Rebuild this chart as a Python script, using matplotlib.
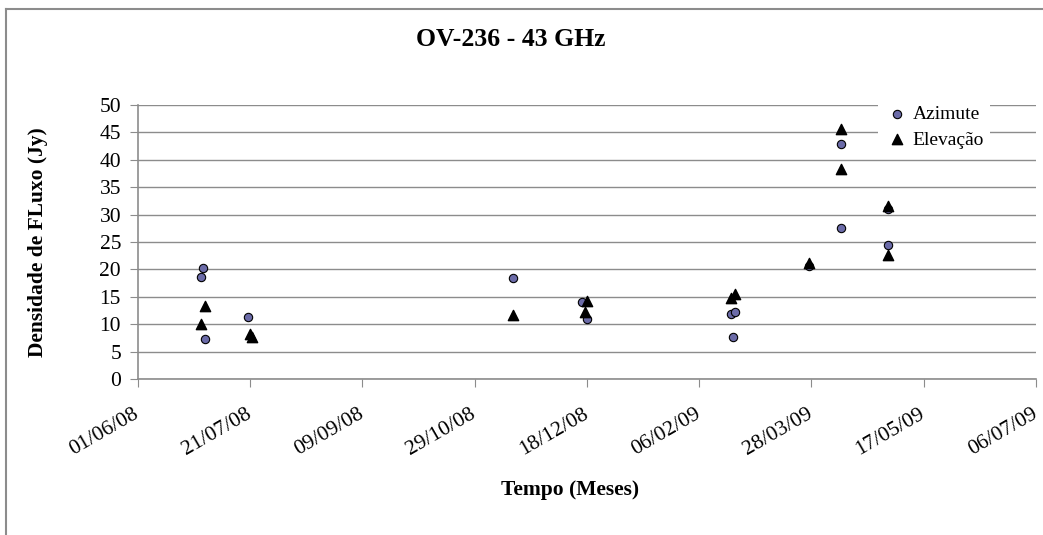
import pandas as pd
import matplotlib.pyplot as plt
import matplotlib.dates as mdates
from matplotlib.lines import Line2D

plt.rcParams['font.family'] = ['Liberation Serif', 'DejaVu Serif']

# Azimute scans
az_dates = ['2008-06-29', '2008-06-30', '2008-07-01', '2008-07-20',
            '2008-11-15', '2008-12-16', '2008-12-18',
            '2009-02-20', '2009-02-22', '2009-02-21',
            '2009-03-27', '2009-04-10', '2009-04-10', '2009-05-01', '2009-05-01']
az_vals = [18.7, 20.2, 7.3, 11.3,
           18.4, 14.0, 11.0,
           11.9, 12.2, 7.7,
           20.6, 42.9, 27.6, 31.0, 24.5]

# Elevacao scans
el_dates = ['2008-06-29', '2008-07-01', '2008-07-21', '2008-07-22',
            '2008-11-15', '2008-12-17', '2008-12-18',
            '2009-02-20', '2009-02-22',
            '2009-03-27', '2009-04-10', '2009-04-10', '2009-05-01', '2009-05-01']
el_vals = [10.0, 13.3, 8.3, 7.7,
           11.6, 12.3, 14.3,
           14.7, 15.5,
           21.1, 45.7, 38.3, 31.5, 22.6]

tick_dates = pd.date_range('2008-06-01', periods=9, freq='50D')

fig = plt.figure(figsize=(10.43, 5.35), dpi=100)
ax = fig.add_axes([0.132, 0.2916, 0.8613, 0.5121])

ax.scatter(pd.to_datetime(az_dates), az_vals, marker='o', s=36,
           facecolor='#6b6ba8', edgecolor='black', linewidth=0.8,
           label='Azimute', zorder=3)
ax.scatter(pd.to_datetime(el_dates), el_vals, marker='^', s=55,
           color='black', label='Elevação', zorder=3)

ax.set_xlim(tick_dates[0], tick_dates[-1])
ax.set_ylim(0, 50)
ax.set_yticks(range(0, 51, 5))
ax.set_xticks(tick_dates)
ax.xaxis.set_major_formatter(mdates.DateFormatter('%d/%m/%y'))

ax.grid(axis='y', color='#8c8c8c', linewidth=1)
ax.set_axisbelow(True)
for s in ['top', 'right']:
    ax.spines[s].set_visible(False)
for s in ['left', 'bottom']:
    ax.spines[s].set_color('#8c8c8c')
    ax.spines[s].set_linewidth(1.2)
ax.tick_params(colors='#8c8c8c', labelcolor='black', labelsize=15.5, length=6)
ax.tick_params(axis='y', pad=6)
ax.tick_params(axis='x', pad=18)
plt.setp(ax.get_xticklabels(), rotation=30, ha='right', va='center',
         rotation_mode='anchor')

fig.text(0.49, 1 - 40 / 535, 'OV-236 - 43 GHz', fontsize=18.5, fontweight='bold',
         ha='center', va='center')
ax.set_xlabel('Tempo (Meses)', fontsize=15.5, fontweight='bold')
ax.xaxis.set_label_coords(0.481, -0.37)
ax.set_ylabel('Densidade de FLuxo (Jy)', fontsize=15.5, fontweight='bold')
ax.yaxis.set_label_coords(-0.1, 0.5)

leg = ax.legend(loc='upper left', bbox_to_anchor=(868 / 1043, 1 - 90 / 535),
                bbox_transform=fig.transFigure, frameon=True,
                fontsize=14, handletextpad=0.1, borderpad=0.3,
                labelspacing=0.4, handlelength=1.4)
leg.get_frame().set_edgecolor('none')
leg.get_frame().set_facecolor('white')
leg.get_frame().set_alpha(1)
leg.get_frame().set_boxstyle('square', pad=0)

# outer chart frame (cropped on the right and bottom)
fig.add_artist(Line2D([0.006, 0.006], [0.0, 0.983], color='#8c8c8c', lw=1.5))
fig.add_artist(Line2D([0.006, 1.0], [0.983, 0.983], color='#8c8c8c', lw=1.5))

fig.savefig('out.png', dpi=100)
